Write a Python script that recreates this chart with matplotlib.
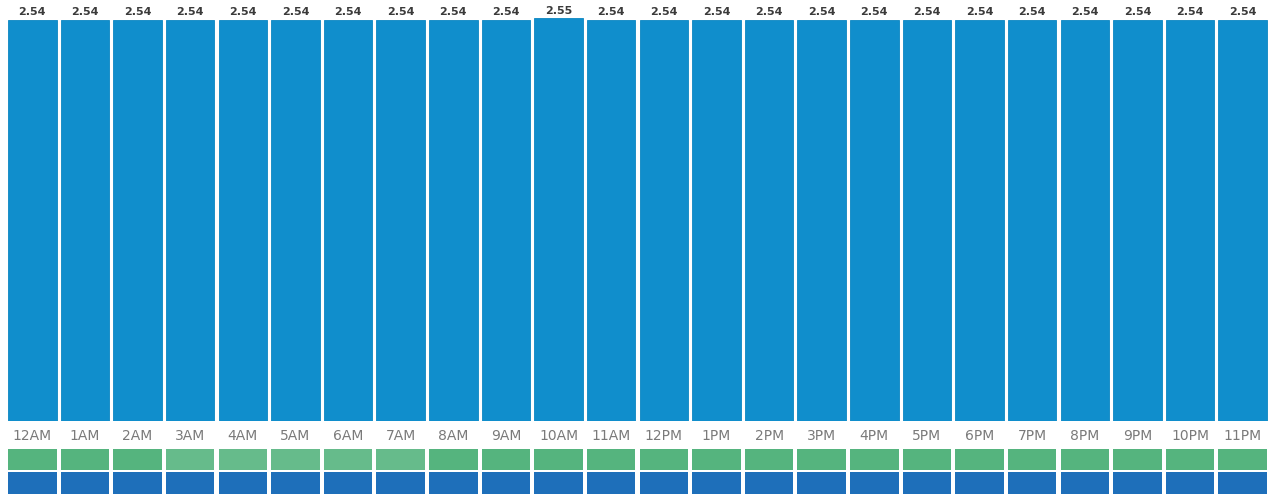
import matplotlib.pyplot as plt
import matplotlib.colors as mcolors

hours = ["12AM", "1AM", "2AM", "3AM", "4AM", "5AM", "6AM", "7AM", "8AM", "9AM",
         "10AM", "11AM", "12PM", "1PM", "2PM", "3PM", "4PM", "5PM", "6PM", "7PM",
         "8PM", "9PM", "10PM", "11PM"]
avg_value = [2.54, 2.54, 2.54, 2.54, 2.54, 2.54, 2.54, 2.54, 2.54, 2.54,
             2.55, 2.54, 2.54, 2.54, 2.54, 2.54, 2.54, 2.54, 2.54, 2.54,
             2.54, 2.54, 2.54, 2.54]
# intensity row shown under the axis (early-morning hours are lighter)
green_level = [1.0, 1.0, 1.0, 0.9, 0.9, 0.9, 0.9, 0.9, 1.0, 1.0,
               1.0, 1.0, 1.0, 1.0, 1.0, 1.0, 1.0, 1.0, 1.0, 1.0,
               1.0, 1.0, 1.0, 1.0]
blue_level = [1.0] * 24

W, H = 1273, 494
fig = plt.figure(figsize=(W / 100, H / 100), dpi=100)

x = list(range(len(hours)))
left, width = 6 / W, 1263 / W

ax = fig.add_axes([left, 73 / H, width, 421 / H])
ax.bar(x, avg_value, width=0.92, color="#108ECC", edgecolor="#0B86C2", linewidth=0.6)
ax.set_xlim(-0.5, len(hours) - 0.5)
ax.set_ylim(0, 2.54 * 421 / 401)
for i, v in enumerate(avg_value):
    ax.text(i, v + 0.018, f"{v:.2f}", ha="center", va="bottom",
            fontsize=8, fontweight="bold", color="#3a3a3a")
ax.set_xticks(x)
ax.set_xticklabels(hours, fontsize=10, color="#7a7a7a")
ax.tick_params(axis="x", length=0, pad=6)
ax.set_yticks([])
for s in ax.spines.values():
    s.set_visible(False)

green = mcolors.LinearSegmentedColormap.from_list("g", ["#ffffff", "#55B47E"])
blue = mcolors.LinearSegmentedColormap.from_list("b", ["#ffffff", "#1E6FBA"])

for bottom, height, levels, cmap in [(24 / H, 21 / H, green_level, green),
                                     (0, 22 / H, blue_level, blue)]:
    sx = fig.add_axes([left, bottom, width, height])
    sx.bar(x, [1] * len(levels), width=0.92, color=[cmap(l) for l in levels])
    sx.set_xlim(-0.5, len(hours) - 0.5)
    sx.set_ylim(0, 1)
    sx.axis("off")

fig.savefig("out.png", dpi=100)
